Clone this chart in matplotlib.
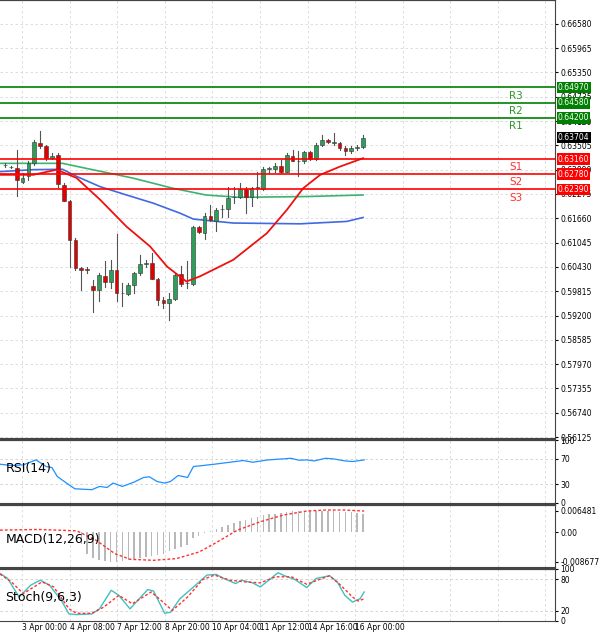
import matplotlib.pyplot as plt
from matplotlib.patches import Rectangle

# OHLC candles (index 1..62)
opens  = [.6301,.6296,.6293,.6259,.6272,.6305,.6356,.6349,.6318,.6327,.6251,.6210,.6112,.6040,.6037,.5995,.5985,.6021,.6006,.6036,.5977,.5975,.5996,.6027,.6050,.6053,.6012,.5960,.5951,.5961,.6025,.6002,.5999,.6143,.6130,.6173,.6160,.6189,.6189,.6219,.6219,.6240,.6221,.6242,.6240,.6290,.6290,.6299,.6284,.6324,.6310,.6310,.6333,.6316,.6352,.6364,.6356,.6356,.6343,.6335,.6343,.6347]
highs  = [.6305,.6299,.6339,.6280,.6310,.6364,.6386,.6352,.6331,.6331,.6255,.6213,.6116,.6044,.6044,.6010,.6028,.6057,.6061,.6126,.6002,.6002,.6031,.6074,.6061,.6078,.6015,.5968,.5976,.6027,.6046,.6057,.6147,.6147,.6179,.6200,.6192,.6200,.6246,.6246,.6255,.6246,.6246,.6284,.6297,.6297,.6305,.6314,.6331,.6339,.6335,.6335,.6335,.6356,.6377,.6366,.6381,.6360,.6348,.6348,.6352,.6377]
lows   = [.6297,.6293,.6223,.6255,.6263,.6301,.6343,.6314,.6316,.6246,.6209,.6044,.6036,.5985,.6027,.5930,.5956,.5993,.5989,.5956,.5943,.5972,.5977,.6023,.6044,.6012,.5947,.5939,.5909,.5959,.5994,.5989,.5998,.6128,.6113,.6158,.6133,.6170,.6170,.6204,.6217,.6179,.6196,.6217,.6238,.6280,.6284,.6280,.6282,.6310,.6272,.6305,.6314,.6314,.6348,.6356,.6352,.6339,.6326,.6331,.6339,.6343]
closes = [.6301,.6297,.6263,.6268,.6305,.6358,.6348,.6318,.6324,.6253,.6211,.6112,.6040,.6035,.6036,.5985,.6023,.6006,.6036,.5977,.5977,.5996,.6027,.6050,.6053,.6012,.5960,.5951,.5961,.6023,.5999,.6002,.6143,.6131,.6173,.6162,.6186,.6189,.6217,.6221,.6240,.6221,.6242,.6244,.6290,.6292,.6299,.6284,.6327,.6310,.6312,.6333,.6316,.6352,.6364,.6358,.6358,.6343,.6335,.6343,.6347,.6370]
last_price = 0.63704

# moving averages (index, price)
ma_red_x = [0.15,5.8,9.8,13.2,17.2,21.7,25.7,28.6,31.9,34.2,39.9,45.6,49,51.8,54.7,58.1,62]
ma_red_y = [.6276,.6276,.6289,.6268,.6213,.6145,.6095,.6044,.6006,.6019,.6061,.6128,.6187,.6242,.6276,.6297,.6318]
ma_blue_x = [0.15,5.7,10.8,13.2,17.2,21.7,26.3,30.8,33.1,39.9,51.3,59.2,62]
ma_blue_y = [.6284,.6289,.6290,.6272,.6246,.6225,.6204,.6179,.6164,.6154,.6152,.6158,.6168]
ma_green_x = [0.15,10.8,15.9,22.7,29.6,35.2,40.9,52.3,62]
ma_green_y = [.6305,.6305,.6289,.6268,.6242,.6225,.6219,.6221,.6225]

res_levels = [0.64970, 0.64580, 0.64200]
sup_levels = [0.63160, 0.62780, 0.62390]
price_ticks = [0.66580,0.65965,0.65350,0.64735,0.64120,0.63505,0.62890,0.62275,0.61660,
               0.61045,0.60430,0.59815,0.59200,0.58585,0.57970,0.57355,0.56740,0.56125]

rsi_x = [0.15,2.1,4.1,6.3,8.0,9.0,9.9,11.9,12.9,15.8,17.1,18.4,19.4,21.0,23.0,24.6,25.6,26.9,28.2,29.2,30.5,32.1,33.1,34.7,36.7,39.3,41.6,43.2,45.8,48.4,49.7,51.1,52.4,53.7,55.6,57.0,58.9,60.2,62.2]
rsi_y = [61.6,59.5,60.5,68.4,57.9,56.3,42.1,28.9,22.6,21.1,26.3,24.7,31.6,26.3,33.2,40.5,41.6,34.2,31.6,34.2,43.7,40.5,57.9,59.5,61.6,64.7,67.4,64.7,68.4,70,71,67.9,68.4,66.8,71,70,66.8,65.8,68.4]

macd_hist = [0.2]*13 + [-3.5,-6.3,-7.5,-8.2,-8.6,-8.8,-8.8,-8.6,-8.3,-8.0,-7.6,-7.2,-7.0,-6.8,-6.3,-5.5,-4.8,-4.4,-3.6,-1.6,-1.0,-0.3,0.3,1.0,1.5,2.3,2.8,3.4,3.8,4.3,4.6,5.2,5.4,5.6,5.9,6.2,6.3,6.3,6.4,6.4,6.5,6.5,6.5,6.4,6.2,6.0,6.0,5.9,5.6]
macd_sig_x = [0.15,6.7,13.2,16.5,19.7,22.3,26.3,30.2,34.1,36.7,40.6,44.5,48.4,52.4,55.6,58.9,62.2]
macd_sig_y = [0.7,0.9,0.5,-2.3,-6.3,-8.0,-8.3,-7.8,-5.8,-3.3,0.7,3.2,5.2,6.4,6.7,6.7,6.4]

stk_x = [0.15,1.45,3.41,5.37,7.0,8.6,10.6,11.9,13.2,15.8,17.1,19.1,20.4,22.3,25.3,26.3,28.2,29.2,30.8,32.8,35.4,37.0,38.0,40.3,41.3,43.2,44.5,45.8,47.5,48.8,50.4,52.4,54.0,56.3,57.6,58.9,60.2,61.5,62.2]
stk_y = [91.5,81.8,46.1,68.8,78.5,68.8,39.6,13.6,12.3,13.6,23.4,59.1,49.3,23.4,60.4,57.8,14.9,16.9,42.8,62.3,88.3,89.6,83.1,72.0,78.5,73.3,65.5,77.2,92.8,86.3,79.8,64.3,81.8,87.0,75.3,49.3,36.3,42.8,55.8]
std_x = [0.15,2.1,4.1,7.3,9.3,11.9,13.2,15.8,17.8,20.4,22.7,25.9,27.6,29.5,32.1,34.7,36.7,39.3,41.9,44.5,47.1,49.8,52.4,56.3,58.2,60.2,61.2,62.2]
std_y = [90.2,75.3,52.6,75.3,65.5,23.4,14.9,14.9,26.6,49.3,33.1,55.8,39.6,20.1,46.1,79.8,88.3,78.5,75.3,73.3,85.0,85.0,70.7,87.0,68.8,46.1,38.3,42.8]

date_pos = [3.9, 12.1, 20.1, 28.3, 36.3, 44.4, 52.6, 60.6]
date_labels = ["3 Apr 00:00", "4 Apr 08:00", "7 Apr 12:00", "8 Apr 20:00",
               "10 Apr 04:00", "11 Apr 12:00", "14 Apr 16:00", "16 Apr 00:00"]
grid_x = date_pos + [68.8, 76.8, 85.0, 93.0]

XLIM = (0.15, 94.7)
H = 635
fig = plt.figure(figsize=(6, 6.35), dpi=100)
W = 555 / 600

def panel(top, bot):
    return fig.add_axes([0, 1 - bot / H, W, (bot - top) / H])

ax = panel(0, 438)
rsi = panel(440, 503)
macd = panel(505, 567)
sto = panel(569, 621)

for a in (ax, rsi, macd, sto):
    a.set_xlim(*XLIM)
    a.yaxis.tick_right()
    a.tick_params(axis='y', labelsize=5.5, length=2, pad=2)
    a.tick_params(axis='x', length=0, labelbottom=False)
    for x in grid_x:
        a.axvline(x, color='#d8d8d8', lw=0.6, ls=(0, (3, 3)), zorder=0)
    for s in a.spines.values():
        s.set_color('#444444')
        s.set_linewidth(0.8)
    a.spines['left'].set_visible(False)
    a.spines['top'].set_linewidth(1.6)

# main chart
ax.set_ylim(0.56101, 0.67183)
ax.set_yticks(price_ticks)
ax.set_yticklabels([f"{v:.5f}" for v in price_ticks])
for v in price_ticks:
    ax.axhline(v, color='#d8d8d8', lw=0.6, ls=(0, (3, 3)), zorder=0)

for i in range(len(closes)):
    x = i + 1
    o, h, l, c = opens[i], highs[i], lows[i], closes[i]
    col = '#2e9e5b' if c >= o else '#e50000'
    ax.plot([x, x], [l, h], color='#555555', lw=0.8, zorder=3)
    b = max(abs(c - o), 0.00004)
    ax.add_patch(Rectangle((x - 0.32, min(o, c)), 0.64, b, facecolor=col,
                           edgecolor='#333333', lw=0.4, zorder=4))

ax.plot(ma_green_x, ma_green_y, color='#3cb371', lw=1.2, zorder=2)
ax.plot(ma_blue_x, ma_blue_y, color='#4169e1', lw=1.2, zorder=2)
ax.plot(ma_red_x, ma_red_y, color='#ee1111', lw=1.3, zorder=5)

def price_tag(v, fc):
    ax.text(1.005, v, f"{v:.5f}", transform=ax.get_yaxis_transform(), fontsize=5.5,
            color='white', va='center', ha='left', zorder=10,
            bbox=dict(boxstyle='square,pad=0.15', fc=fc, ec='none'), clip_on=False)

for v, name in zip(res_levels, ["R3", "R2", "R1"]):
    ax.axhline(v, color='#008000', lw=1.2, zorder=6)
    ax.text(88.0, v - 0.0008, name, color='#2a9a2a', fontsize=7.5, va='top', ha='center')
    price_tag(v, '#008000')
for v, name in zip(sup_levels, ["S1", "S2", "S3"]):
    ax.axhline(v, color='#ff0000', lw=1.2, zorder=6)
    ax.text(88.0, v - 0.0008, name, color='#ff3030', fontsize=7.5, va='top', ha='center')
    price_tag(v, '#ff0000')
price_tag(last_price, 'black')

# RSI
rsi.set_ylim(0, 100)
rsi.set_yticks([100, 70, 30, 0])
for v in (70, 30):
    rsi.axhline(v, color='#cccccc', lw=0.6, ls=(0, (3, 3)))
rsi.plot(rsi_x, rsi_y, color='#1e90ff', lw=0.9)
rsi.text(0.01, 0.55, "RSI(14)", transform=rsi.transAxes, fontsize=9, va='center')

# MACD
idx = list(range(1, len(macd_hist) + 1))
macd.bar(idx, [v / 1000 for v in macd_hist], width=0.25, color='#b8b8b8')
macd.plot(macd_sig_x, [v / 1000 for v in macd_sig_y], color='#ff3030', lw=1.0, ls=(0, (2, 1.5)))
macd.set_ylim(-0.0103, 0.0082)
macd.set_yticks([0.006481, 0.0, -0.008677])
macd.set_yticklabels(["0.006481", "0.00", "-0.008677"])
macd.text(0.01, 0.45, "MACD(12,26,9)", transform=macd.transAxes, fontsize=9, va='center')

# Stochastic
sto.set_ylim(0, 100)
sto.set_yticks([100, 80, 20, 0])
for v in (80, 20):
    sto.axhline(v, color='#cccccc', lw=0.6, ls=(0, (3, 3)))
sto.plot(stk_x, stk_y, color='#40c0c0', lw=1.0)
sto.plot(std_x, std_y, color='#ff3030', lw=1.0, ls=(0, (2, 1.5)))
sto.text(0.01, 0.45, "Stoch(9,6,3)", transform=sto.transAxes, fontsize=9, va='center')

sto.set_xticks(date_pos)
sto.set_xticklabels(date_labels)
sto.tick_params(axis='x', labelbottom=True, labelsize=5.5, length=0, pad=1.5)
for t in sto.get_xticklabels():
    t.set_ha('left')

fig.savefig("out.png", dpi=100)
